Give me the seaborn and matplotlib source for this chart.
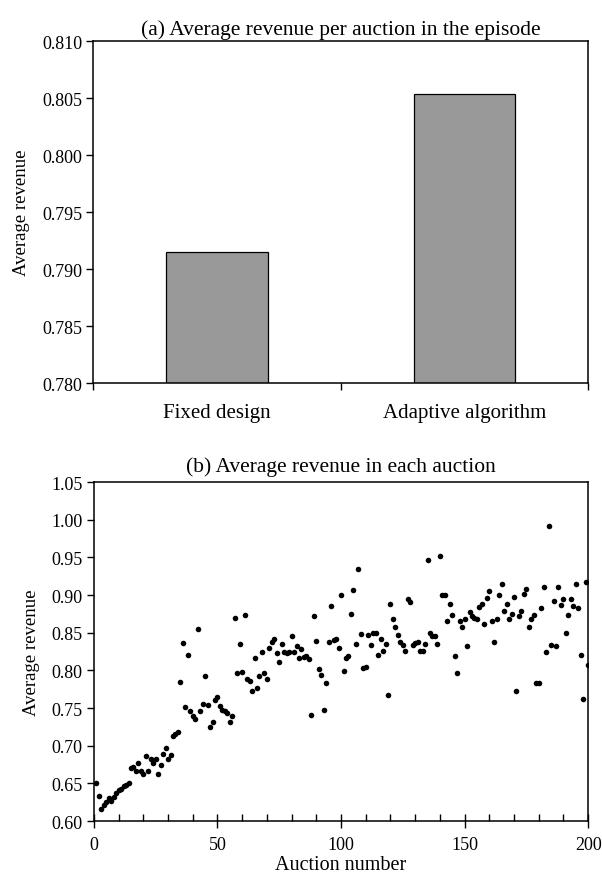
import matplotlib
matplotlib.use("Agg")
import matplotlib.pyplot as plt
import seaborn as sns
import pandas as pd
import numpy as np
from matplotlib.ticker import FormatStrFormatter, MultipleLocator, FixedLocator

# ---------------- data ----------------
designs = ["Fixed design", "Adaptive algorithm"]
avg_revenue = [0.7915, 0.8054]

revenue = [
    0.650, 0.633, 0.616, 0.621, 0.625, 0.630, 0.626, 0.632, 0.637, 0.641, 0.643, 0.646, 0.648, 0.650,
    0.670, 0.672, 0.667, 0.677, 0.666, 0.662, 0.686, 0.667, 0.682, 0.677, 0.683, 0.663, 0.675, 0.689,
    0.697, 0.682, 0.688, 0.713, 0.716, 0.718,
    0.785, 0.836, 0.752, 0.820, 0.746, 0.739, 0.735, 0.855, 0.746, 0.756, 0.792, 0.754, 0.725, 0.731,
    0.761, 0.764, 0.753, 0.748, 0.746, 0.744, 0.731, 0.740,
    0.869, 0.797, 0.835, 0.798, 0.873, 0.789, 0.786, 0.773, 0.816, 0.777, 0.792, 0.824, 0.797, 0.789,
    0.830, 0.837, 0.841, 0.823, 0.811, 0.835, 0.824, 0.823, 0.824, 0.845,
    0.824, 0.832, 0.817, 0.829, 0.818, 0.819, 0.815, 0.741, 0.872, 0.839, 0.802, 0.794, 0.748, 0.783,
    0.837, 0.885, 0.840, 0.842, 0.830, 0.900,
    0.799, 0.816, 0.819, 0.875, 0.907, 0.835, 0.934, 0.848, 0.803, 0.805, 0.847, 0.834, 0.850, 0.850,
    0.820, 0.842, 0.826, 0.835, 0.767, 0.888,
    0.868, 0.857, 0.847, 0.838, 0.833, 0.826, 0.895, 0.891, 0.833, 0.836, 0.837, 0.826, 0.826, 0.835,
    0.947, 0.850, 0.846, 0.845, 0.835, 0.952,
    0.900, 0.900, 0.866, 0.888, 0.873, 0.819, 0.796, 0.866, 0.858, 0.868, 0.832, 0.877, 0.872, 0.870,
    0.868, 0.884, 0.888, 0.862, 0.896, 0.905,
    0.866, 0.837, 0.868, 0.900, 0.915, 0.879, 0.888, 0.868, 0.875, 0.898, 0.773, 0.872, 0.879, 0.901,
    0.908, 0.858, 0.868, 0.873, 0.783, 0.783,
    0.883, 0.911, 0.824, 0.991, 0.834, 0.892, 0.832, 0.911, 0.887, 0.895, 0.850, 0.873, 0.895, 0.886,
    0.915, 0.883, 0.820, 0.762, 0.917, 0.807,
]
auction = list(range(1, len(revenue) + 1))

bar_yticks = [0.780, 0.785, 0.790, 0.795, 0.800, 0.805, 0.810]
scatter_yticks = [0.60, 0.65, 0.70, 0.75, 0.80, 0.85, 0.90, 0.95, 1.00, 1.05]
scatter_xticks = [0, 50, 100, 150, 200]

# ---------------- style ----------------
sns.set_theme(style="white")
plt.rcParams["font.family"] = ["Liberation Serif", "DejaVu Serif"]
plt.rcParams["font.size"] = 13
plt.rcParams["axes.edgecolor"] = "black"
plt.rcParams["axes.linewidth"] = 1.1
plt.rcParams["xtick.color"] = "black"
plt.rcParams["ytick.color"] = "black"
plt.rcParams["text.color"] = "black"
plt.rcParams["axes.labelcolor"] = "black"

TITLE_FS = 15.5
TICK_FS = 13

fig = plt.figure(figsize=(6.02, 8.79), dpi=100)
ax1 = fig.add_axes([0.155, 0.563, 0.822, 0.389])
ax2 = fig.add_axes([0.156, 0.0648, 0.821, 0.3857])

# ---------------- (a) bar chart ----------------
df_bar = pd.DataFrame({"design": designs, "avg": avg_revenue})
sns.barplot(data=df_bar, x="design", y="avg", ax=ax1, color="#999999",
            edgecolor="black", linewidth=0.9, width=0.41, saturation=1)
ax1.set_ylim(0.780, 0.810)
ax1.set_xlim(-0.5, 1.5)
ax1.yaxis.set_major_locator(FixedLocator(bar_yticks))
ax1.yaxis.set_major_formatter(FormatStrFormatter("%.3f"))
ax1.tick_params(axis="y", which="major", direction="out", length=5, width=1,
                left=True, labelsize=TICK_FS, pad=3)
ax1.tick_params(axis="x", which="major", length=0, labelsize=15, pad=14)
ax1.xaxis.set_minor_locator(FixedLocator([-0.5, 0.5, 1.5]))
ax1.tick_params(axis="x", which="minor", direction="out", length=5, width=1, bottom=True)
ax1.set_xlabel("")
ax1.set_ylabel("Average revenue", fontsize=13.5, labelpad=9)
ax1.set_title("(a) Average revenue per auction in the episode", fontsize=TITLE_FS, pad=5)
for s in ax1.spines.values():
    s.set_visible(True)
    s.set_color("black")

# ---------------- (b) scatter ----------------
df_sc = pd.DataFrame({"auction": auction, "revenue": revenue})
sns.scatterplot(data=df_sc, x="auction", y="revenue", ax=ax2, color="black",
                s=16, linewidth=0, legend=False)
ax2.set_xlim(0, 200)
ax2.set_ylim(0.60, 1.05)
ax2.yaxis.set_major_locator(FixedLocator(scatter_yticks))
ax2.yaxis.set_major_formatter(FormatStrFormatter("%.2f"))
ax2.xaxis.set_major_locator(FixedLocator(scatter_xticks))
ax2.xaxis.set_minor_locator(MultipleLocator(10))
ax2.tick_params(axis="y", which="major", direction="out", length=5, width=1,
                left=True, labelsize=TICK_FS, pad=3)
ax2.tick_params(axis="x", which="major", direction="inout", length=10, width=1,
                bottom=True, labelsize=TICK_FS, pad=6)
ax2.tick_params(axis="x", which="minor", direction="in", length=5, width=1, bottom=True)
ax2.set_xlabel("Auction number", fontsize=14.5, labelpad=1)
ax2.set_ylabel("Average revenue", fontsize=13.5, labelpad=8)
ax2.set_title("(b) Average revenue in each auction", fontsize=TITLE_FS, pad=8)
for s in ax2.spines.values():
    s.set_visible(True)
    s.set_color("black")

fig.savefig("out.png", dpi=100)
